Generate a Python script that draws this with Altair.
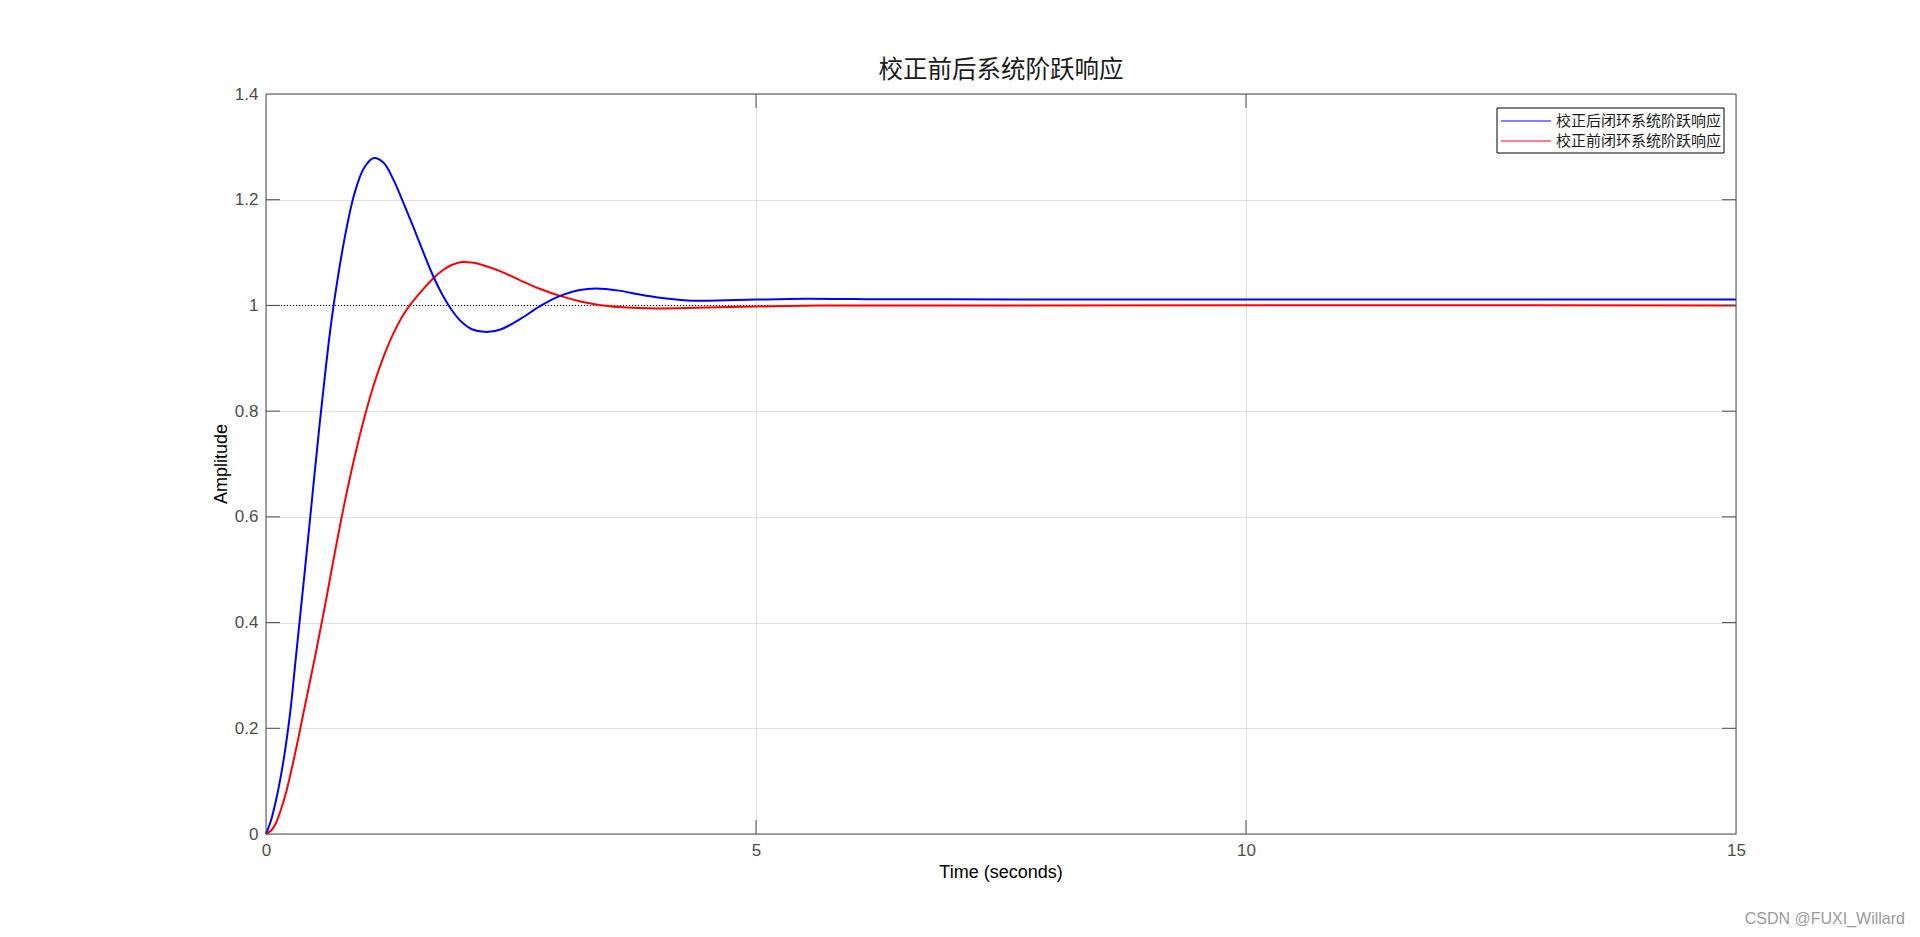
import altair as alt
import pandas as pd

# ---------------- data ----------------
t_after = [0, 0.05, 0.1, 0.15, 0.2, 0.25, 0.3, 0.35, 0.4, 0.45, 0.5, 0.55, 0.6, 0.65, 0.7,
           0.8, 0.9, 1.0, 1.1, 1.2, 1.3, 1.4, 1.5, 1.6, 1.7, 1.8, 1.9, 2.0, 2.1, 2.25, 2.4,
           2.6, 2.8, 3.0, 3.2, 3.37, 3.6, 3.8, 4.0, 4.3, 4.5, 5.0, 5.5, 6.0, 7.0, 15.0]
y_after = [0, 0.025, 0.062, 0.108, 0.165, 0.235, 0.325, 0.415, 0.505, 0.597, 0.69, 0.78,
           0.865, 0.945, 1.013, 1.125, 1.21, 1.26, 1.279, 1.27, 1.238, 1.195, 1.15, 1.103,
           1.058, 1.02, 0.99, 0.968, 0.955, 0.9497, 0.955, 0.975, 0.999, 1.018, 1.029,
           1.032, 1.028, 1.021, 1.015, 1.0095, 1.009, 1.011, 1.0125, 1.012, 1.0115, 1.011]

t_before = [0, 0.05, 0.1, 0.15, 0.2, 0.3, 0.4, 0.5, 0.6, 0.7, 0.8, 0.9, 1.0, 1.1, 1.2, 1.3,
            1.4, 1.5, 1.6, 1.7, 1.8, 1.9, 2.0, 2.1, 2.2, 2.4, 2.6, 2.8, 3.0, 3.2, 3.4, 3.6,
            3.8, 4.0, 4.3, 4.6, 5.0, 5.5, 6.0, 15.0]
y_before = [0, 0.006, 0.02, 0.045, 0.075, 0.155, 0.245, 0.335, 0.43, 0.53, 0.625, 0.71,
            0.785, 0.85, 0.903, 0.947, 0.982, 1.008, 1.03, 1.05, 1.066, 1.077, 1.082, 1.081,
            1.077, 1.064, 1.047, 1.031, 1.018, 1.008, 1.001, 0.997, 0.995, 0.9943, 0.995,
            0.9965, 0.998, 0.9995, 1.0, 1.0]

series_names = ["校正后闭环系统阶跃响应", "校正前闭环系统阶跃响应"]
series_colors = ["#0000ff", "#ff0000"]
title_text = "校正前后系统阶跃响应"
x_title = "Time (seconds)"
y_title = "Amplitude"
watermark = "CSDN @FUXI_Willard"
x_ticks = [0, 5, 10, 15]
y_ticks = [0, 0.2, 0.4, 0.6, 0.8, 1.0, 1.2, 1.4]
ref_level = [1.0]

# ---------------- layout ----------------
W, H = 1470, 740
TICK = 14
AX_COLOR = "#4d4d4d"
LABEL_FONT = "Liberation Sans"
CJK_FONT = "Noto Sans CJK SC"

xs = alt.Scale(domain=[0, 15], nice=False, zero=False)
ys = alt.Scale(domain=[0, 1.4], nice=False, zero=False)

x_axis = alt.Axis(values=x_ticks, format="~g", grid=True, gridColor="#dfdfdf", gridWidth=1,
                  ticks=False, domain=False, labelFont=LABEL_FONT, labelFontSize=17,
                  labelColor=AX_COLOR, labelPadding=8, title=None, labelFlush=False)
y_axis = alt.Axis(values=y_ticks, format="~g", grid=True, gridColor="#dfdfdf", gridWidth=1,
                  ticks=False, domain=False, labelFont=LABEL_FONT, labelFontSize=17,
                  labelColor=AX_COLOR, labelPadding=8, title=None, labelFlush=False)

X = alt.X("t:Q", scale=xs, axis=x_axis)
Y = alt.Y("y:Q", scale=ys, axis=y_axis)

df_after = pd.DataFrame({"t": t_after, "y": y_after})
df_before = pd.DataFrame({"t": t_before, "y": y_before})

ref_line = alt.Chart(pd.DataFrame({"y": ref_level})).mark_rule(
    color="#000000", strokeDash=[1, 2], strokeWidth=1
).encode(y=Y, x=alt.value(0), x2=alt.value(W))

line_before = alt.Chart(df_before).mark_line(
    interpolate="catmull-rom", strokeWidth=2, color=series_colors[1]
).encode(x=X, y=Y)

line_after = alt.Chart(df_after).mark_line(
    interpolate="catmull-rom", strokeWidth=2, color=series_colors[0]
).encode(x=X, y=Y)

# inward ticks on all four sides
yt = pd.DataFrame({"y": y_ticks[1:-1]})
xt = pd.DataFrame({"t": x_ticks[1:-1]})
tick_left = alt.Chart(yt).mark_rule(color=AX_COLOR, strokeWidth=1).encode(
    y=Y, x=alt.value(0), x2=alt.value(TICK))
tick_right = alt.Chart(yt).mark_rule(color=AX_COLOR, strokeWidth=1).encode(
    y=Y, x=alt.value(W - TICK), x2=alt.value(W))
tick_bottom = alt.Chart(xt).mark_rule(color=AX_COLOR, strokeWidth=1).encode(
    x=X, y=alt.value(H - TICK), y2=alt.value(H))
tick_top = alt.Chart(xt).mark_rule(color=AX_COLOR, strokeWidth=1).encode(
    x=X, y=alt.value(0), y2=alt.value(TICK))

one = pd.DataFrame({"k": [0]})

# axes box
box = alt.Chart(one).mark_rect(fillOpacity=0, stroke=AX_COLOR, strokeWidth=1).encode(
    x=alt.value(0), x2=alt.value(W), y=alt.value(0), y2=alt.value(H))

# texts
title_mark = alt.Chart(one).mark_text(
    font=CJK_FONT, fontSize=24.5, color="#1a1a1a", align="center", baseline="middle"
).encode(x=alt.value(W / 2), y=alt.value(-23), text=alt.value(title_text))

xtitle_mark = alt.Chart(one).mark_text(
    font=LABEL_FONT, fontSize=18, color="#000000", align="center", baseline="middle"
).encode(x=alt.value(W / 2), y=alt.value(779), text=alt.value(x_title))

ytitle_mark = alt.Chart(one).mark_text(
    font=LABEL_FONT, fontSize=18, color="#000000", align="center", baseline="middle", angle=270
).encode(x=alt.value(-44), y=alt.value(H / 2), text=alt.value(y_title))

wm_mark = alt.Chart(one).mark_text(
    font=LABEL_FONT, fontSize=16, color="#9a9a9a", align="right", baseline="middle"
).encode(x=alt.value(1639), y=alt.value(825), text=alt.value(watermark))

# legend (drawn box)
legend_box = alt.Chart(one).mark_rect(fill="white", stroke="#000000", strokeWidth=1).encode(
    x=alt.value(1231), x2=alt.value(1458), y=alt.value(14), y2=alt.value(59))
legend_rows = [27, 47]
legend_layers = []
for name, col, ypix in zip(series_names, series_colors, legend_rows):
    legend_layers.append(
        alt.Chart(one).mark_rule(strokeWidth=1, color=col).encode(
            x=alt.value(1235), x2=alt.value(1285), y=alt.value(ypix))
    )
    legend_layers.append(
        alt.Chart(one).mark_text(
            font=CJK_FONT, fontSize=15, color="#1a1a1a", align="left", baseline="middle"
        ).encode(x=alt.value(1290), y=alt.value(ypix), text=alt.value(name))
    )

chart = alt.layer(
    ref_line, line_before, line_after,
    tick_left, tick_right, tick_bottom, tick_top, box,
    title_mark, xtitle_mark, ytitle_mark, wm_mark,
    legend_box, *legend_layers,
).properties(
    width=W, height=H,
    padding={"left": 258, "top": 86, "right": 176, "bottom": 100},
    autosize=alt.AutoSizeParams(type="none"),
    background="white",
).configure_view(stroke=AX_COLOR, strokeWidth=1)

chart.save("out.html", embed_options={"renderer": "svg", "actions": False})
